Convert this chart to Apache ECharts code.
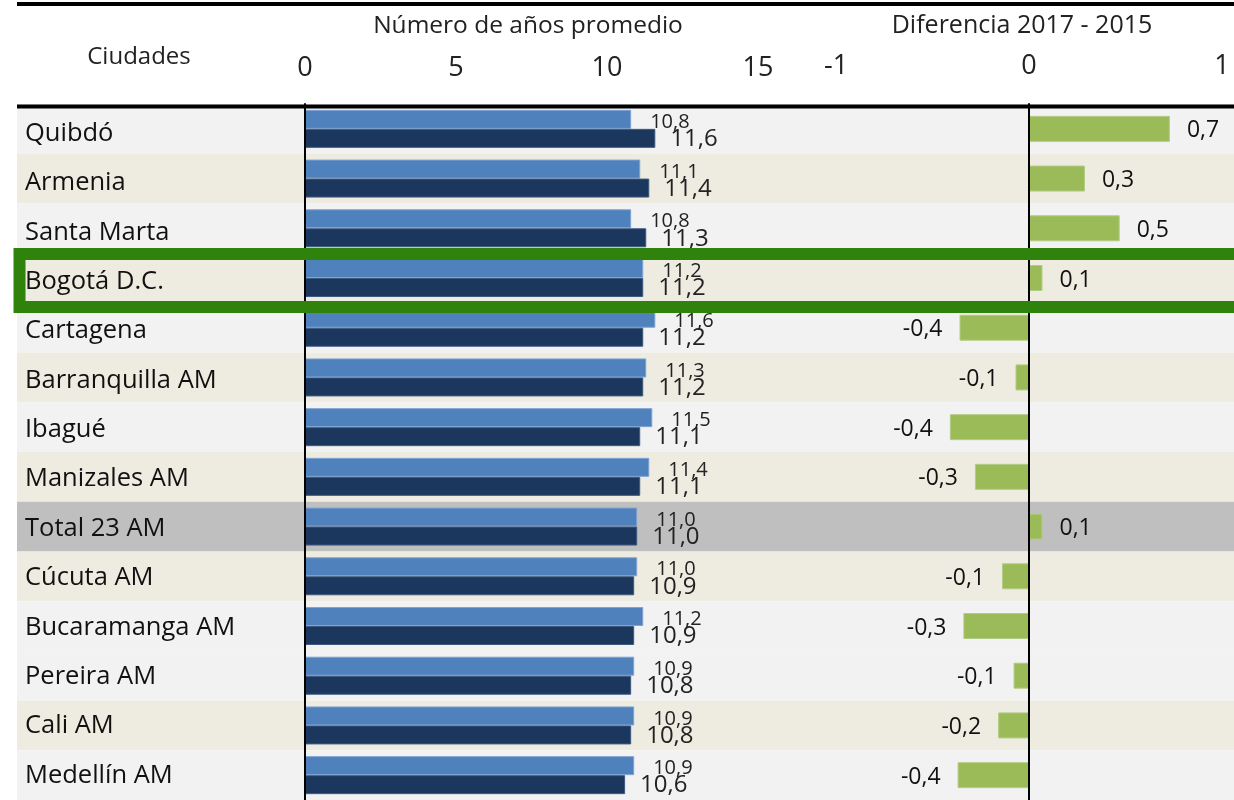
<!DOCTYPE html>
<html>
<head>
<meta charset="utf-8">
<script src="https://cdn.jsdelivr.net/npm/echarts@6/dist/echarts.min.js"></script>
<style>
html,body{margin:0;padding:0;background:#fff;}
#c{width:1234px;height:800px;}
</style>
</head>
<body>
<div id="c"></div>
<script>
const ciudades = ['Quibdó','Armenia','Santa Marta','Bogotá D.C.','Cartagena','Barranquilla AM','Ibagué','Manizales AM','Total 23 AM','Cúcuta AM','Bucaramanga AM','Pereira AM','Cali AM','Medellín AM'];
const anios2015 = [10.8, 11.1, 10.8, 11.2, 11.6, 11.3, 11.5, 11.4, 11.0, 11.0, 11.2, 10.9, 10.9, 10.9];
const anios2017 = [11.6, 11.4, 11.3, 11.2, 11.2, 11.2, 11.1, 11.1, 11.0, 10.9, 10.9, 10.8, 10.8, 10.6];
const diferencia = [0.73, 0.29, 0.47, 0.07, -0.36, -0.07, -0.41, -0.28, 0.07, -0.14, -0.34, -0.08, -0.16, -0.37];
const ticksAnios = [0, 5, 10, 15];
const ticksDif = [-1, 0, 1];
const tituloAnios = 'Número de años promedio';
const tituloDif = 'Diferencia 2017 - 2015';
const tituloCiudades = 'Ciudades';

const FONT = '"Open Sans", "Noto Sans", sans-serif';
const fmt = v => v.toFixed(1).replace('.', ',');
const rowFill = ['#f2f2f2','#eeece1','#f2f2f2','#eeece1','#f2f2f2','#eeece1','#f2f2f2','#eeece1','#bfbfbf','#eeece1','#f2f2f2','#f2f2f2','#eeece1','#f2f2f2'];

const chart = echarts.init(document.getElementById('c'), null, {renderer: 'canvas'});
const TOP = 104, H = 50 * ciudades.length;

chart.setOption({
  animation: false,
  backgroundColor: '#ffffff',
  grid: [
    {left: 17, right: 0, top: TOP, height: H},
    {left: 305, width: 453, top: TOP, height: H},
    {left: 836, width: 386, top: TOP, height: H},
    {left: 305, width: 453, top: TOP + 5, height: H}
  ],
  xAxis: [
    {gridIndex: 0, type: 'value', min: 0, max: 1, show: false},
    {gridIndex: 1, type: 'value', position: 'top', min: ticksAnios[0], max: ticksAnios[ticksAnios.length-1], interval: 5,
     axisLine: {show: false}, axisTick: {show: false}, splitLine: {show: false},
     axisLabel: {fontFamily: FONT, fontSize: 27, color: '#222', margin: 22, showMinLabel: true, showMaxLabel: true}},
    {gridIndex: 2, type: 'value', position: 'top', min: ticksDif[0], max: ticksDif[ticksDif.length-1], interval: 1,
     axisLine: {show: false}, axisTick: {show: false}, splitLine: {show: false},
     axisLabel: {fontFamily: FONT, fontSize: 27, color: '#222', margin: 24, showMinLabel: true, showMaxLabel: true,
       formatter: v => String(v)}},
    {gridIndex: 3, type: 'value', min: 0, max: 1, show: false}
  ],
  yAxis: [
    {gridIndex: 0, type: 'category', data: ciudades, inverse: true, show: false},
    {gridIndex: 1, type: 'category', data: ciudades, inverse: true, z: 5,
     axisLine: {show: true, lineStyle: {color: '#000', width: 2}}, axisTick: {show: false},
     axisLabel: {show: false}},
    {gridIndex: 2, type: 'category', data: ciudades, inverse: true, z: 5,
     axisLine: {show: true, onZero: true, lineStyle: {color: '#000', width: 2}}, axisTick: {show: false},
     axisLabel: {show: false}},
    {gridIndex: 3, type: 'category', data: ciudades, inverse: true, z: 5,
     axisLine: {show: false}, axisTick: {show: false}, splitLine: {show: false},
     axisLabel: {fontFamily: FONT, fontSize: 25.5, color: '#111', align: 'left', margin: 280}}
  ],
  series: [
    {type: 'bar', xAxisIndex: 0, yAxisIndex: 0, silent: true, z: 1, barWidth: '100%',
     data: ciudades.map((c, i) => ({value: 1, itemStyle: {color: rowFill[i]}}))},
    {type: 'bar', name: '2015', xAxisIndex: 1, yAxisIndex: 1, z: 3, barWidth: 19, barGap: '0%',
     data: anios2015,
     itemStyle: {color: '#4f81bd', borderColor: '#7fa3d3', borderWidth: 1},
     label: {show: true, position: 'right', distance: 5, offset: [14, 3], fontFamily: FONT, fontSize: 20, color: '#222',
       formatter: p => fmt(p.value)}},
    {type: 'bar', name: '2017', xAxisIndex: 1, yAxisIndex: 1, z: 3, barWidth: 19, barGap: '0%',
     data: anios2017,
     itemStyle: {color: '#1b375e', borderColor: '#3e5a80', borderWidth: 1},
     label: {show: true, position: 'right', distance: 5, offset: [10, 1], fontFamily: FONT, fontSize: 24, color: '#222',
       formatter: p => fmt(p.value)}},
    {type: 'bar', name: 'Diferencia', xAxisIndex: 2, yAxisIndex: 2, z: 3, barWidth: 26,
     data: diferencia.map(v => ({value: v, label: {position: v < 0 ? 'left' : 'right', offset: [v < 0 ? -12 : 12, 2]}})),
     itemStyle: {color: '#9bbb59', borderColor: '#b3cc85', borderWidth: 1},
     label: {show: true, distance: 5, fontFamily: FONT, fontSize: 23, color: '#111',
       formatter: p => fmt(p.value)}}
  ],
  graphic: [
    {type: 'line', z: 10, shape: {x1: 17, y1: 4, x2: 1234, y2: 4}, style: {stroke: '#000', lineWidth: 4}},
    {type: 'line', z: 10, shape: {x1: 17, y1: 106.5, x2: 1234, y2: 106.5}, style: {stroke: '#000', lineWidth: 4}},
    {type: 'text', z: 10, x: 139, y: 57, style: {text: tituloCiudades, fontFamily: FONT, fontSize: 24, fill: '#222', align: 'center', verticalAlign: 'middle'}},
    {type: 'text', z: 10, x: 528, y: 26, style: {text: tituloAnios, fontFamily: FONT, fontSize: 24.5, fill: '#222', align: 'center', verticalAlign: 'middle'}},
    {type: 'text', z: 10, x: 1022, y: 26, style: {text: tituloDif, fontFamily: FONT, fontSize: 25, fill: '#222', align: 'center', verticalAlign: 'middle'}},
    {type: 'rect', z: 20, silent: true, shape: {x: 19.5, y: 254, width: 1240, height: 53},
     style: {fill: 'none', stroke: '#2f820b', lineWidth: 12}}
  ]
});
</script>
</body>
</html>
